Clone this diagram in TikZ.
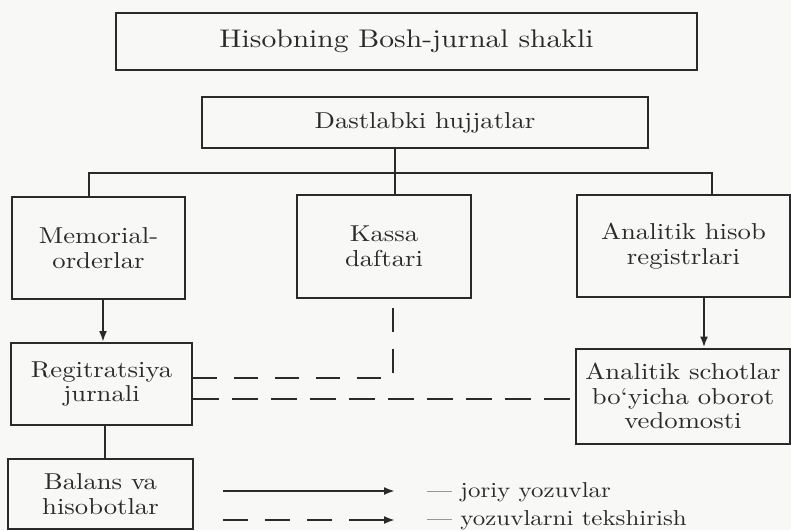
\documentclass[tikz,border=0pt]{standalone}
\usepackage{fontspec}
\setmainfont{lmroman10-regular.otf}[FakeStretch=1.16]
\usetikzlibrary{arrows.meta}
\definecolor{ink}{HTML}{2A2A2A}
\definecolor{paper}{HTML}{F8F8F6}
\begin{document}
\begin{tikzpicture}[x=1pt,y=-1pt,
  box/.style={draw=ink, line width=2pt, text=ink, align=center, inner sep=0pt,
    font=\fontsize{23}{24.5}\selectfont},
  conn/.style={draw=ink, line width=2pt},
  arr/.style={conn, -{Latex[length=11pt,width=8pt]}},
  dshA/.style={conn, dash pattern=on 24pt off 17pt},
  dshB/.style={conn, dash pattern=on 26pt off 13pt},
  dshL/.style={conn, dash pattern=on 25pt off 17pt},
  legtext/.style={text=ink, inner sep=0pt, font=\fontsize{21.5}{24}\selectfont}]
\fill[paper] (0,0) rectangle (791,530);
\useasboundingbox (0,0) rectangle (791,530);

\node[box, minimum width=581pt, minimum height=57pt, font=\fontsize{25.5}{30}\selectfont]
  (title) at (406.5,41.5) {Hisobning Bosh-jurnal shakli};
\node[box, minimum width=446pt, minimum height=51pt] (dast) at (425,122.5) {Dastlabki hujjatlar};
\node[box, minimum width=173pt, minimum height=102pt] (memo) at (98.5,248) {Memorial-\\orderlar};
\node[box, minimum width=174pt, minimum height=103pt] (kassa) at (384,246.5) {Kassa\\daftari};
\node[box, minimum width=213pt, minimum height=102pt] (anhis) at (683.5,246) {Analitik hisob\\registrlari};
\node[box, minimum width=181pt, minimum height=82pt] (reg) at (101.5,384) {Regitratsiya\\jurnali};
\node[box, minimum width=214pt, minimum height=95pt] (ansch) at (683,396) {Analitik schotlar\\bo‘yicha oborot\\vedomosti};
\node[box, minimum width=185pt, minimum height=70pt, anchor=north] (bal) at (100.5,458) {Balans va\\hisobotlar};

\coordinate (jm) at (395,173);
\coordinate (jl) at (89,173);
\coordinate (jr) at (712,173);
\coordinate (xa) at (103,0);
\coordinate (xb) at (704,0);
\coordinate (xc) at (105,0);
\coordinate (xk) at (393,0);
\coordinate (ya) at (0,378);
\coordinate (yb) at (0,399);

\draw[conn] (dast.south -| jm) -- (jm |- kassa.north);
\draw[conn] (jl |- memo.north) -- (jl) -- (jr) -- (jr |- anhis.north);
\draw[arr] (memo.south -| xa) -- (reg.north -| xa);
\draw[arr] (anhis.south -| xb) -- (ansch.north -| xb);
\draw[conn] (reg.south -| xc) -- (bal.north -| xc);
\draw[dshA] (reg.east |- ya) -- (xk |- ya) -- (kassa.south -| xk);
\draw[dshB] (reg.east |- yb) -- (ansch.west |- yb);

% legend
\coordinate (l1a) at (223,491);
\coordinate (l1b) at (395,491);
\coordinate (l2a) at (223,520);
\coordinate (l2b) at (357,520);
\coordinate (l2c) at (395,520);
\draw[arr] (l1a) -- (l1b);
\draw[dshL] (l2a) -- (l2b);
\draw[arr] (l2b) -- (l2c);
\node[legtext, anchor=base west] (t1) at (427,497) {--- joriy yozuvlar};
\node[legtext, anchor=base west] (t2) at (427,525) {--- yozuvlarni tekshirish};
\end{tikzpicture}
\end{document}
